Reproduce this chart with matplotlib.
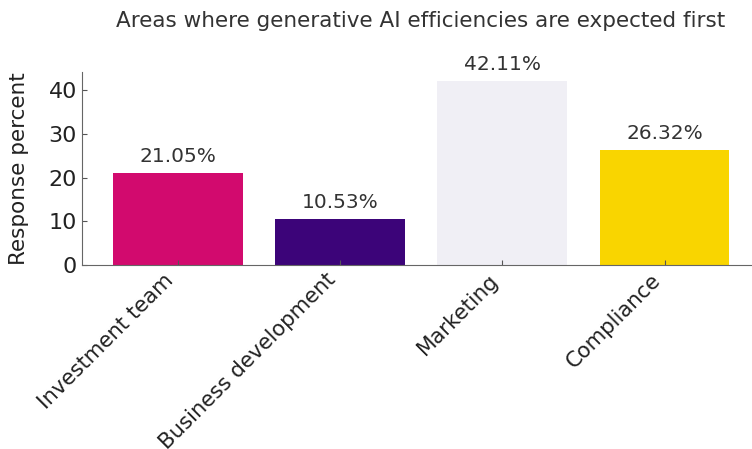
import matplotlib.pyplot as plt

areas = ['Investment team', 'Business development', 'Marketing', 'Compliance']
percent = [21.05, 10.53, 42.11, 26.32]
colors = ['#D20A6E', '#3C0479', '#F0EFF5', '#F9D500']

fig = plt.figure(figsize=(7.52, 4.49), dpi=100)
ax = fig.add_axes([0.109, 0.41, 0.902, 0.43])

bars = ax.bar(areas, percent, color=colors, width=0.8)
for b, v in zip(bars, percent):
    ax.text(b.get_x() + b.get_width() / 2, v + 1.6, f'{v:.2f}%',
            ha='center', va='bottom', fontsize=14.5, color='#333333')

ax.set_title('Areas where generative AI efficiencies are expected first',
             fontsize=15.5, color='#333333', pad=32)
ax.set_ylabel('Response percent', fontsize=15.5, color='#222222', labelpad=14)
ax.set_yticks([0, 10, 20, 30, 40])
ax.tick_params(axis='y', labelsize=16)
ax.tick_params(axis='x', labelsize=15.3)
ax.tick_params(axis='both', direction='in', color='#555555', labelcolor='#222222')
plt.setp(ax.get_xticklabels(), rotation=45, ha='right')

for s in ['top', 'right']:
    ax.spines[s].set_visible(False)
for s in ['left', 'bottom']:
    ax.spines[s].set_color('#666666')

fig.savefig('out.png', dpi=100)
